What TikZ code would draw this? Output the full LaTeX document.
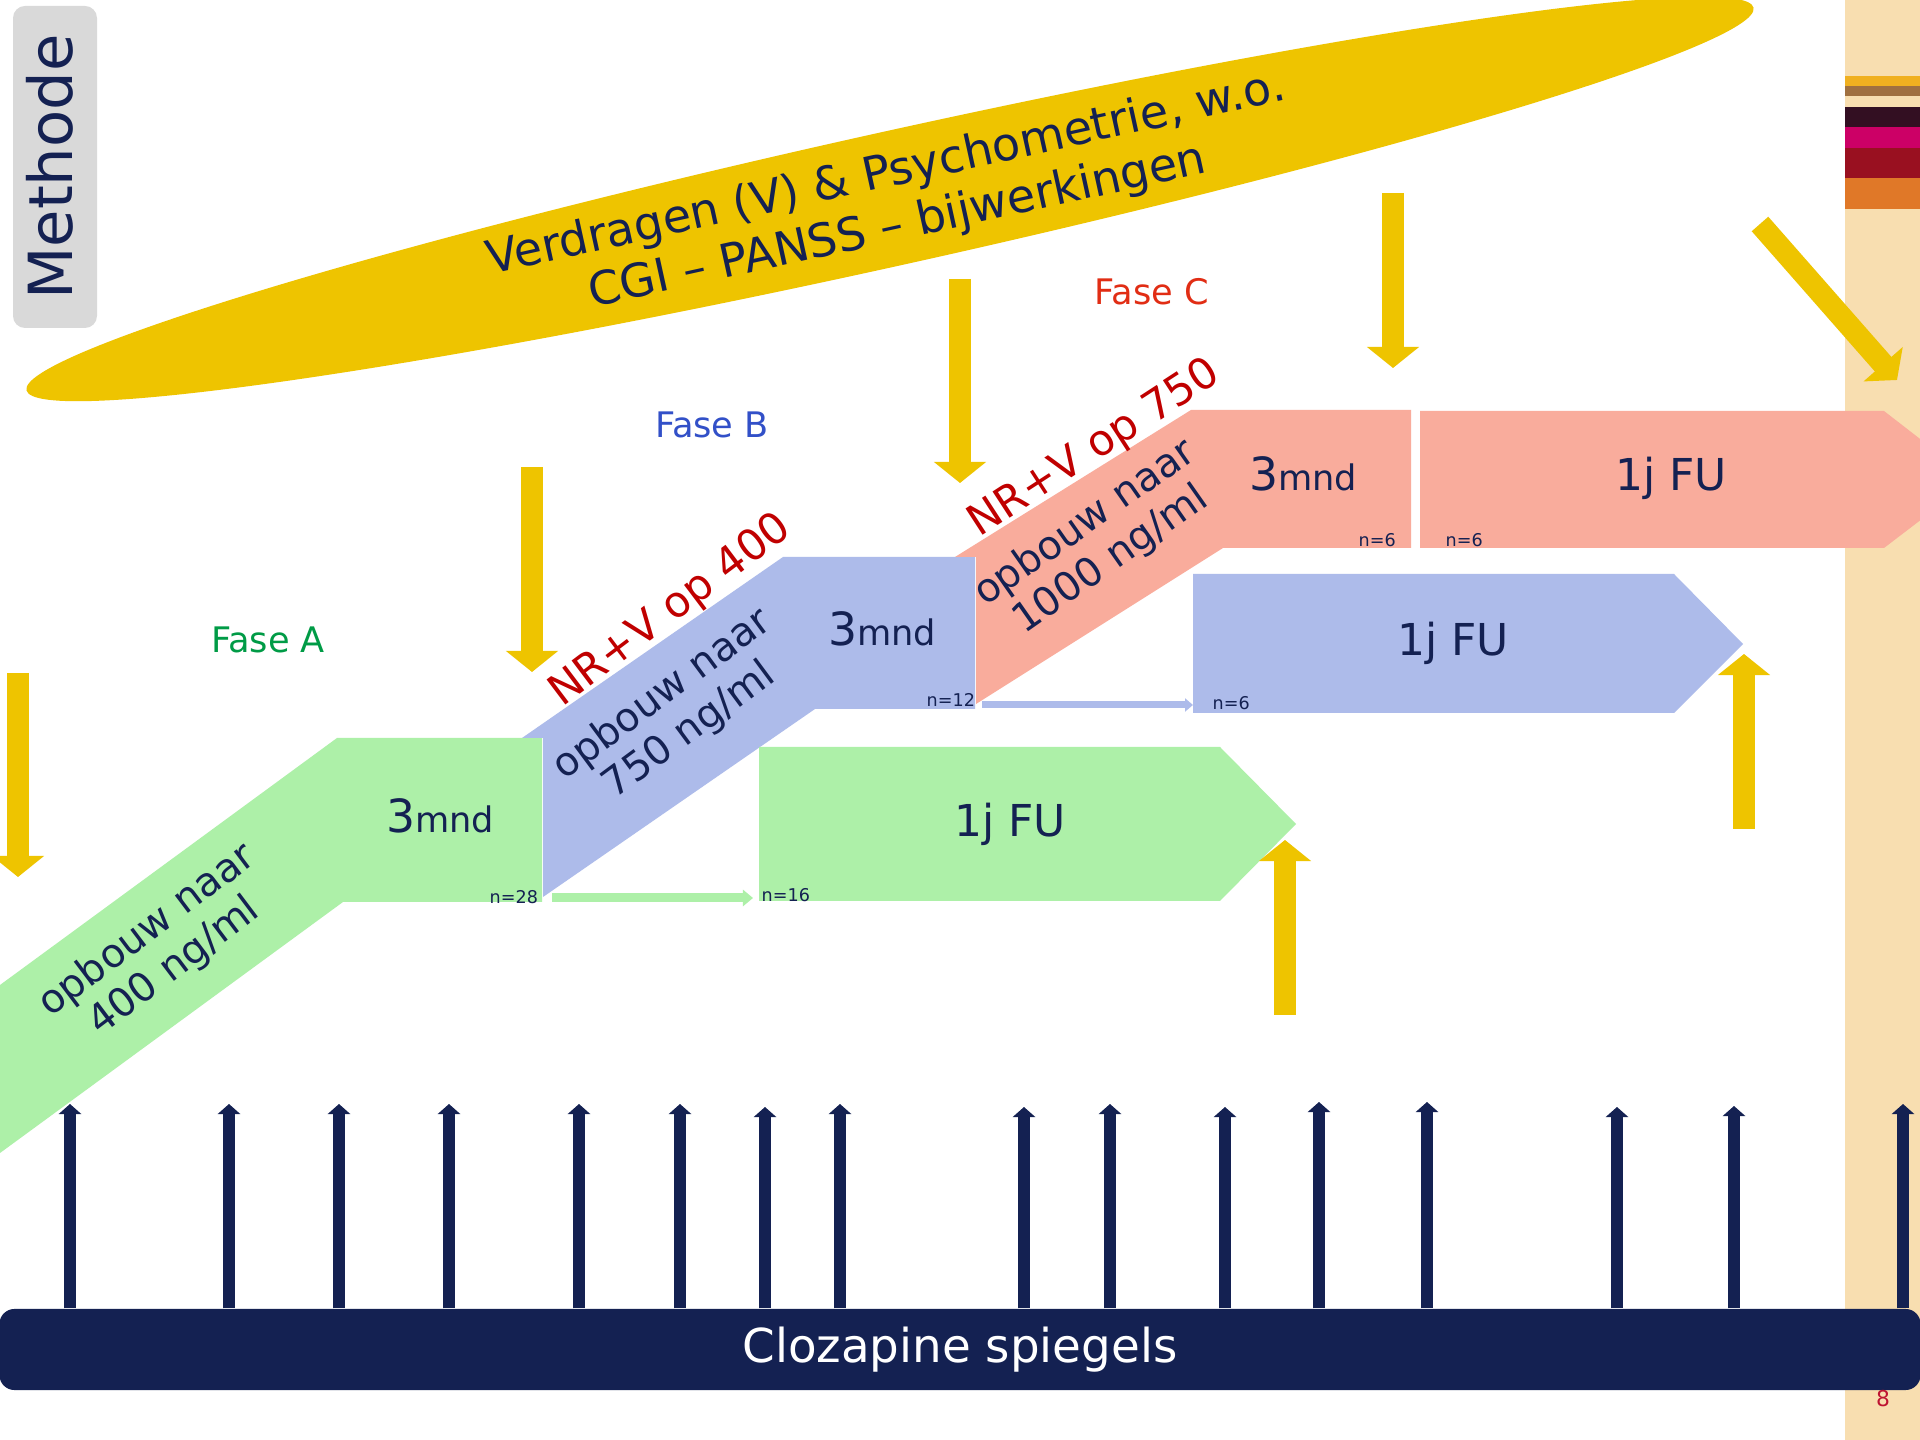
\documentclass[tikz,border=0pt]{standalone}
\usepackage{fontspec}
\setmainfont{DejaVu Sans}
\usetikzlibrary{arrows.meta}
\definecolor{navy}{RGB}{20,33,82}
\definecolor{geel}{RGB}{238,196,0}
\definecolor{groen}{RGB}{173,240,168}
\definecolor{blauw}{RGB}{173,187,234}
\definecolor{zalm}{RGB}{249,172,156}
\definecolor{beige}{RGB}{248,222,176}
\definecolor{tabgrijs}{RGB}{217,217,217}
\definecolor{faseA}{RGB}{0,155,70}
\definecolor{faseB}{RGB}{50,80,200}
\definecolor{faseC}{RGB}{225,45,20}
\definecolor{nrrood}{RGB}{192,0,0}
\definecolor{paginarood}{RGB}{190,20,50}
\definecolor{streepgoud}{RGB}{240,176,32}
\definecolor{streepbruin}{RGB}{160,112,64}
\definecolor{streepdonker}{RGB}{51,15,34}
\definecolor{streepmagenta}{RGB}{204,0,102}
\definecolor{streeprood}{RGB}{153,16,32}
\definecolor{streeporanje}{RGB}{224,120,40}

\begin{document}
\begin{tikzpicture}[x=0.01cm,y=-0.01cm,
    ylw arrow/.style={geel,line width=0.22cm,-{Triangle[width=0.51cm,length=0.21cm]}},
    level arrow/.style={navy,line width=0.115cm,-{Triangle[width=0.22cm,length=0.1cm]}},
    ramp text/.style={text=navy,align=center,inner sep=0pt,font=\fontsize{11.3}{12.8}\selectfont},
    stop text/.style={text=nrrood,inner sep=0pt,font=\fontsize{12.2}{14}\selectfont},
    mnd text/.style={text=navy,inner sep=0pt,anchor=base,font=\fontsize{10}{12}\selectfont},
    fu text/.style={text=navy,inner sep=0pt,anchor=base,font=\fontsize{12.5}{14}\selectfont},
    n label/.style={text=navy,inner sep=0pt,anchor=base west,font=\fontsize{5}{6}\selectfont},
    fase label/.style={inner sep=0pt,anchor=base,font=\fontsize{10}{12}\selectfont}]
  \useasboundingbox (0,0) rectangle (1920,1440);
  \clip (0,0) rectangle (1920,1440);
  \fill[white] (0,0) rectangle (1920,1440);

  % Side band
  \fill[beige] (1845,0) rectangle (1920,1440);
  \foreach \a/\b/\c in {76/86/streepgoud,86/96/streepbruin,107/127/streepdonker,
                        127/148/streepmagenta,148/178/streeprood,178/209/streeporanje}
    \fill[\c] (1845,\a) rectangle (1920,\b);

  % Title tab
  \fill[tabgrijs,rounded corners=0.12cm] (13,6) rectangle (97,328);
  \node[rotate=90,anchor=base,text=navy,inner sep=0pt,font=\fontsize{17.3}{20}\selectfont]
    (methode) at (73,167) {Methode};

  % Measurements
  \fill[geel,rotate around={12.49:(890,199)}] (890,199) ellipse [x radius=8.84cm,y radius=0.67cm];
  \node[rotate=12.4,text=navy,align=center,inner sep=0pt,font=\fontsize{13.1}{15.4}\selectfont]
    (meting) at (892,201) {Verdragen (V) \& Psychometrie, w.o.\\CGI – PANSS – bijwerkingen};

  % Phases
  \fill[groen] (0,985) -- (337,738) -- (542,738) -- (542,902) -- (343,902) -- (0,1153) -- cycle;
  \fill[blauw] (522,738) -- (783,557) -- (975,557) -- (975,709) -- (815,709) -- (543,897) -- (543,738) -- cycle;
  \fill[zalm] (955,557) -- (1191,410) -- (1411,410) -- (1411,548) -- (1223,548) -- (976,704) -- (976,557) -- cycle;
  \fill[groen] (759,747) -- (1220,747) -- (1296,824) -- (1220,901) -- (759,901) -- cycle;
  \fill[blauw] (1193,574) -- (1674,574) -- (1743,644) -- (1674,713) -- (1193,713) -- cycle;
  \fill[zalm] (1420,411) -- (1884,411) -- (1973,480) -- (1884,548) -- (1420,548) -- cycle;

  \node[ramp text,rotate=37] (rampA) at (161,949) {opbouw naar\\400 ng/ml};
  \node[ramp text,rotate=36.5] (rampB) at (676,713) {opbouw naar\\750 ng/ml};
  \node[ramp text,rotate=35] (rampC) at (1098,542) {opbouw naar\\1000 ng/ml};
  \node[stop text,rotate=37] (stopB) at (671,611) {NR+V op 400};
  \node[stop text,rotate=33] (stopC) at (1095,449) {NR+V op 750};

  \node[mnd text] (mndA) at (440,833) {{\fontsize{13}{14}\selectfont 3}mnd};
  \node[mnd text] (mndB) at (882,646) {{\fontsize{13}{14}\selectfont 3}mnd};
  \node[mnd text] (mndC) at (1303,491) {{\fontsize{13}{14}\selectfont 3}mnd};
  \node[fu text] (fuA) at (1010,837) {1j FU};
  \node[fu text] (fuB) at (1453,656) {1j FU};
  \node[fu text] (fuC) at (1671,491) {1j FU};

  \node[n label] (nA) at (489,904) {n=28};
  \node[n label] (nAfu) at (761,902) {n=16};
  \node[n label] (nB) at (926,707) {n=12};
  \node[n label] (nBfu) at (1212,710) {n=6};
  \node[n label] (nC) at (1358,547) {n=6};
  \node[n label] (nCfu) at (1445,547) {n=6};

  \node[fase label,text=faseA] (faseA) at (268,653) {Fase A};
  \node[fase label,text=faseB] (faseB) at (712,438) {Fase B};
  \node[fase label,text=faseC] (faseC) at (1152,305) {Fase C};

  % Drop-outs to follow-up
  \coordinate (gA) at (552,898);
  \coordinate (gB) at (753,898);
  \coordinate (bA) at (982,705);
  \coordinate (bB) at (1193,705);
  \draw[groen,line width=0.09cm,-{Triangle[width=0.16cm,length=0.1cm]}] (gA) -- (gB);
  \draw[blauw,line width=0.07cm,-{Triangle[width=0.13cm,length=0.08cm]}] (bA) -- (bB);

  % Yellow arrows
  \foreach \x/\a/\b in {18/673/877,532/467/672,960/279/483,1393/193/368,1285/1015/840,1744/829/654}
    \draw[ylw arrow] (\x,\a) -- (\x,\b);
  \coordinate (dA) at (1760,224);
  \coordinate (dB) at (1897,380);
  \draw[ylw arrow] (dA) -- (dB);

  % Clozapine levels
  \node[fill=navy,rounded corners=0.15cm,minimum width=19.2cm,minimum height=0.81cm,inner sep=0pt,
        text=white,font=\fontsize{13.3}{15}\selectfont] (spiegels) at (960,1349.5) {Clozapine spiegels};
  \foreach \x/\t in {70/1104,229/1104,339/1104,449/1104,579/1104,680/1104,765/1107,840/1104,
                     1024/1107,1110/1104,1225/1107,1319/1102,1427/1102,1617/1107,1734/1106,1903/1104} {
    \coordinate (tip) at (\x,\t);
    \draw[level arrow] (tip |- spiegels.north) -- (tip);
  }
  \node[text=paginarood,anchor=base,inner sep=0pt,font=\fontsize{6.2}{7}\selectfont] (pagina) at (1883,1407) {8};
\end{tikzpicture}
\end{document}
